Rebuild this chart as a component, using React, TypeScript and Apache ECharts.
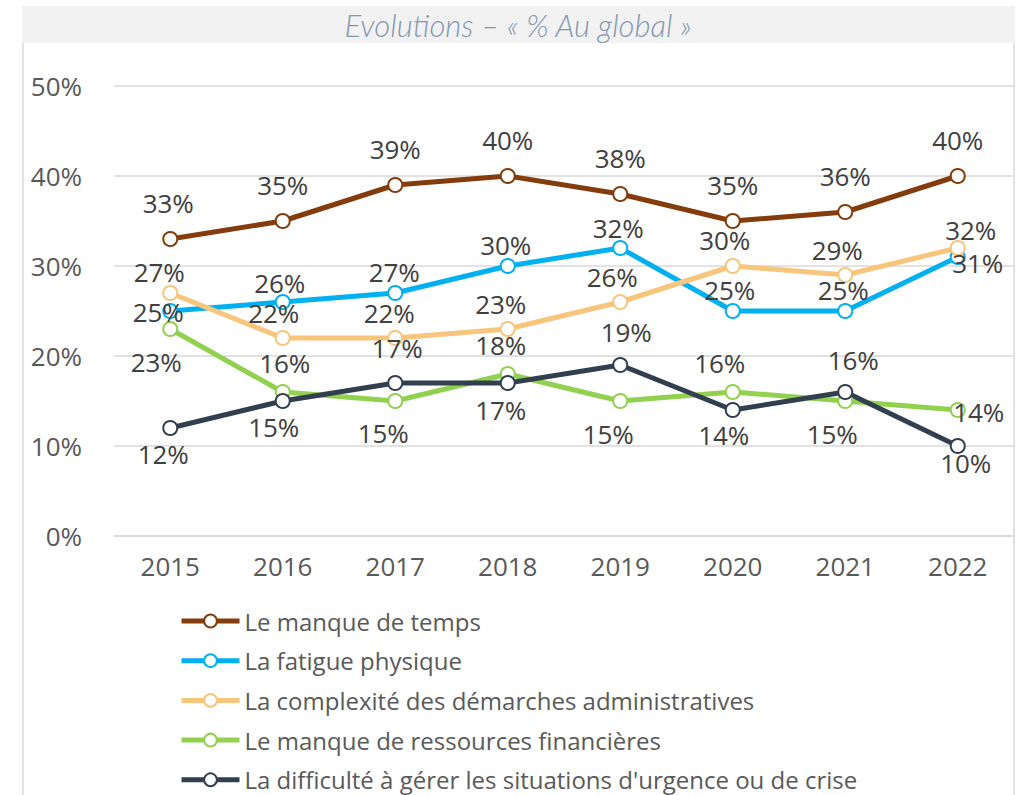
import { useEffect, useRef } from "react";
import * as echarts from "echarts";

const years = ["2015", "2016", "2017", "2018", "2019", "2020", "2021", "2022"];
const yTicks = [0, 10, 20, 30, 40, 50];
const titleText = "Evolutions – « % Au global »";

const names = [
  "Le manque de temps",
  "La fatigue physique",
  "La complexité des démarches administratives",
  "Le manque de ressources financières",
  "La difficulté à gérer les situations d'urgence ou de crise",
];
const tempsValues = [33, 35, 39, 40, 38, 35, 36, 40];
const fatigueValues = [25, 26, 27, 30, 32, 25, 25, 31];
const complexiteValues = [27, 22, 22, 23, 26, 30, 29, 32];
const ressourcesValues = [23, 16, 15, 18, 15, 16, 15, 14];
const difficulteValues = [12, 15, 17, 17, 19, 14, 16, 10];

const colors = ["#843c0c", "#00b0f0", "#f8c57c", "#92d050", "#323f4f"];

// label placement offsets (px) relative to each point centre
const labelOffsets: number[][][] = [
  [[-2, -36], [0, -36], [0, -36], [0, -36], [0, -36], [0, -36], [0, -36], [0, -36]],
  [[-12, 1], [-3, -19], [-1, -21], [-2, -21], [-2, -20], [-3, -21], [-2, -21], [20, 6]],
  [[-11, -21], [-9, -25], [-6, -25], [-7, -25], [-8, -25], [-8, -26], [-8, -25], [13, -18]],
  [[-14, 33], [2, -29], [-12, 32], [-7, -29], [-12, 33], [-13, -29], [-13, 33], [21, 2]],
  [[-7, 26], [-9, 26], [2, -35], [-7, 27], [6, -33], [-9, 25], [8, -32], [8, 17]],
];

const FONT = "'Open Sans', sans-serif";

export default function App() {
  const ref = useRef<HTMLDivElement>(null);
  useEffect(() => {
    if (!ref.current) return;
    const chart = echarts.init(ref.current, null, { renderer: "svg" });
    const allValues = [tempsValues, fatigueValues, complexiteValues, ressourcesValues, difficulteValues];
    const series = allValues.map((vals, si) => ({
      type: "line",
      name: names[si],
      data: vals.map((v, i) => ({
        value: v,
        label: { offset: labelOffsets[si][i] },
      })),
      symbol: "circle",
      symbolSize: 14,
      lineStyle: { color: colors[si], width: 5 },
      itemStyle: { color: "#ffffff", borderColor: colors[si], borderWidth: 2 },
      label: {
        show: true,
        position: "inside",
        formatter: (p: any) => p.value + "%",
        fontFamily: FONT,
        fontSize: 26,
        color: "#404040",
      },
      emphasis: { disabled: true },
    }));
    chart.setOption({
      animation: false,
      grid: { left: 114, top: 86, width: 900, height: 450, containLabel: false },
      graphic: [
        { type: "rect", shape: { x: 22, y: 6, width: 993, height: 37 }, style: { fill: "#f2f2f2" }, z: -1 },
        { type: "line", shape: { x1: 23, y1: 43, x2: 23, y2: 795 }, style: { stroke: "#d9d9d9", lineWidth: 1.5 } },
        { type: "line", shape: { x1: 1014, y1: 43, x2: 1014, y2: 795 }, style: { stroke: "#d9d9d9", lineWidth: 1.5 } },
        {
          type: "text",
          x: 518,
          y: 25,
          style: {
            text: titleText,
            align: "center",
            verticalAlign: "middle",
            fontFamily: "Lato, sans-serif",
            fontStyle: "italic",
            fontWeight: 300,
            fontSize: 31,
            fill: "#8497b0",
          },
        },
      ],
      legend: {
        orient: "vertical",
        left: 179,
        top: 606,
        padding: 0,
        itemWidth: 58,
        itemHeight: 16,
        itemGap: 9.7,
        lineStyle: { width: "inherit" },
        textStyle: { fontFamily: FONT, fontSize: 24, color: "#595959", lineHeight: 30 },
        data: names,
      },
      xAxis: {
        type: "category",
        data: years,
        boundaryGap: true,
        axisLine: { show: true, lineStyle: { color: "#d9d9d9", width: 1.5 } },
        axisTick: { show: false },
        axisLabel: { fontFamily: FONT, fontSize: 26, color: "#595959", margin: 17 },
      },
      yAxis: {
        type: "value",
        min: yTicks[0],
        max: yTicks[yTicks.length - 1],
        interval: 10,
        axisLine: { show: false },
        axisTick: { show: false },
        splitLine: { lineStyle: { color: "#d9d9d9", width: 1.5 } },
        axisLabel: { fontFamily: FONT, fontSize: 26, color: "#595959", margin: 32, formatter: "{value}%" },
      },
      series,
    });
    return () => chart.dispose();
  }, []);
  return <div ref={ref} style={{ position: "fixed", left: 0, top: 0, width: 1018, height: 795, background: "#fff" }} />;
}
